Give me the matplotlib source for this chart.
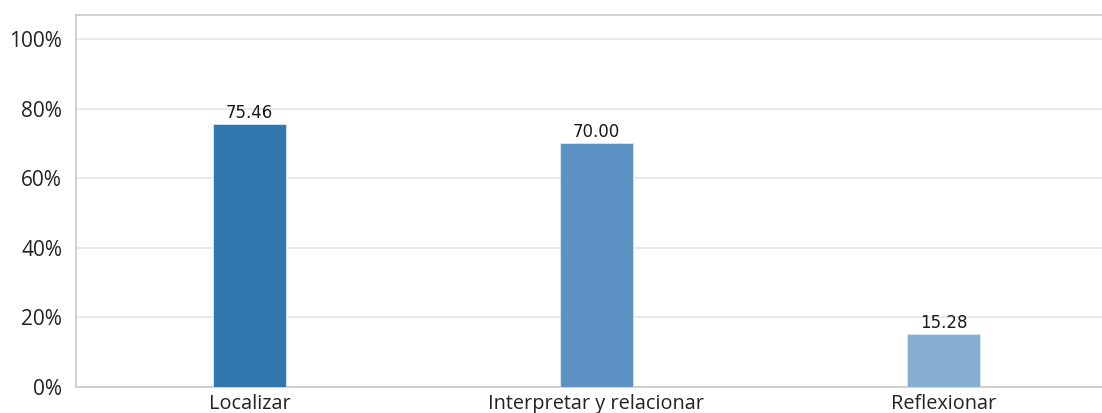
import matplotlib
matplotlib.use("Agg")
import matplotlib.pyplot as plt
import matplotlib.ticker as mticker

# Datos del gráfico
categorias = ["Localizar", "Interpretar y relacionar", "Reflexionar"]
valores = [75.46, 70.00, 15.28]
colores = ["#3276b0", "#5b92c3", "#86add2"]

fig = plt.figure(figsize=(11.02, 4.13), dpi=100)
ax = fig.add_axes([76 / 1102, 26 / 413, 1041 / 1102, 372 / 413])

xs = range(len(categorias))
ax.bar(xs, valores, width=0.21, color=colores, edgecolor="#dce8f3", linewidth=0.6, zorder=3)

for x, v in zip(xs, valores):
    ax.text(x, v + 0.6, f"{v:.2f}", ha="center", va="bottom",
            fontsize=12, family="DejaVu Sans", color="#1a1a1a")

ax.set_xlim(-0.5, 2.5)
ax.set_ylim(0, 106.9)
ax.set_xticks(list(xs))
ax.set_xticklabels(categorias, family="Open Sans", fontsize=14.3, color="#222222")
ax.set_yticks([0, 20, 40, 60, 80, 100])
ax.yaxis.set_major_formatter(mticker.FuncFormatter(lambda v, p: f"{v:.0f}%"))
for lab in ax.get_yticklabels():
    lab.set_family("Open Sans")
    lab.set_fontsize(15)
    lab.set_color("#222222")
ax.tick_params(length=0)
ax.tick_params(axis="y", pad=10)
ax.tick_params(axis="x", pad=5)

ax.grid(axis="y", color="#e6e6e6", linewidth=1.2, zorder=0)
ax.spines["right"].set_visible(False)
for side in ["left", "top", "bottom"]:
    ax.spines[side].set_color("#c8c8c8")
    ax.spines[side].set_linewidth(1.2)

fig.savefig("out.png", dpi=100)
